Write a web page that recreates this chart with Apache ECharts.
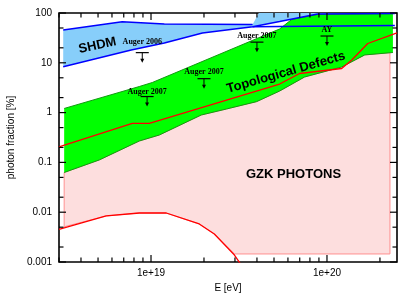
<!DOCTYPE html>
<html><head><meta charset="utf-8">
<script src="https://cdn.jsdelivr.net/npm/echarts@6/dist/echarts.min.js"></script>
<style>html,body{margin:0;padding:0;background:#fff}#c{width:415px;height:293px}</style>
</head><body><div id="c"></div>
<script>
// ---------- data (E in eV, photon fraction in %) ----------
const shdmUpE = [3.17e18, 6.86e18, 1.19e19, 3.78e19, 4.1e19, 2.43e20];
const shdmUpF = [45.6, 66.8, 60.1, 58.7, 100, 100];
const shdmLoE = [3.17e18, 7.72e18, 1.19e19, 1.96e19, 3.78e19, 5.38e19, 8.85e19, 2.43e20];
const shdmLoF = [8.35, 18.1, 25, 39.7, 53.1, 67.4, 95.5, 98];
const shdmAltE = [3.78e19, 2.43e20];
const shdmAltF = [53.1, 56];

const tdUpE = [3.21e18, 8.58e18, 1.017e19, 5.38e19, 6.30e19, 8.85e19, 2.37e20];
const tdUpF = [1.21, 3.34, 4.02, 47.7, 74, 93.3, 97.5];
const tdLoE = [3.21e18, 5.08e18, 8.58e18, 1.115e19, 1.93e19, 2.68e19, 3.98e19, 5.38e19, 7.46e19, 1.212e20, 1.64e20, 2.37e20];
const tdLoF = [0.0627, 0.112, 0.269, 0.355, 0.895, 1.18, 1.66, 2.71, 5.19, 8.24, 14.4, 16.1];

const gzkRegE = [3.21e18, 5.08e18, 8.58e18, 1.115e19, 1.93e19, 2.68e19, 3.98e19, 5.38e19, 7.46e19, 1.212e20, 1.64e20, 2.28e20, 2.28e20, 2.98e19, 2.29e19, 1.88e19, 1.22e19, 8.58e18, 5.56e18, 3.21e18];
const gzkRegF = [0.0627, 0.112, 0.269, 0.355, 0.895, 1.18, 1.66, 2.71, 5.19, 8.24, 14.4, 16.0, 0.00145, 0.00145, 0.00365, 0.0058, 0.00964, 0.00964, 0.0084, 0.0051];

const gzkLowE = [3e18, 5.56e18, 8.58e18, 1.22e19, 1.88e19, 2.29e19, 2.98e19, 3.25e19];
const gzkLowF = [0.0045, 0.0084, 0.00964, 0.00964, 0.0058, 0.00365, 0.00138, 0.00088];
const gzkHighE = [3e18, 7.83e18, 9.78e18, 5.38e19, 6.99e19, 1.212e20, 1.383e20, 1.705e20, 2.5e20];
const gzkHighF = [0.204, 0.61, 0.61, 3.75, 6.1, 7.69, 11.4, 24.4, 39.7];

const limitE = [8.92e18, 9.5e18, 2.0e19, 4.0e19, 1.0e20];
const limitF = [16, 2.1, 4.8, 26, 34.5];
const limitText = ['Auger 2006', 'Auger 2007', 'Auger 2007', 'Auger 2007', 'AY'];

const xMin = 3e18, xMax = 2.5e20, yMin = 0.001, yMax = 100;
// ---------- styles ----------
const labelDy = [11, 5, 7, 6, 6];

const pairs = (es, fs) => es.map((e, i) => [e, fs[i]]);

function polygonSeries(es, fs, fill, stroke, lw) {
  return {
    type: 'custom', coordinateSystem: 'cartesian2d', silent: true, clip: true,
    data: pairs(es, fs), encode: {x: 0, y: 1},
    renderItem: function (params, api) {
      if (params.dataIndex !== 0) return null;
      const pts = es.map((e, i) => api.coord([e, fs[i]]));
      return {type: 'polygon', shape: {points: pts},
        style: {fill: fill, stroke: stroke || null, lineWidth: lw || 0}};
    }
  };
}
function lineSeries(es, fs, color, w) {
  return {type: 'line', data: pairs(es, fs), symbol: 'none', silent: true, clip: true,
    lineStyle: {color: color, width: w}};
}

// axis ticks (decades + minor)
const xMajor = [], xMinor = [], yMajor = [], yMinor = [];
for (let p = 18; p <= 20; p++) {
  for (let k = 1; k <= 9; k++) {
    const v = k * Math.pow(10, p);
    if (v < xMin * 0.999 || v > xMax * 1.001) continue;
    (k === 1 ? xMajor : xMinor).push(v);
  }
}
for (let p = -3; p <= 2; p++) {
  const d = Math.pow(10, p);
  yMajor.push(d);
  if (p < 2) { yMinor.push(2 * d); yMinor.push(5 * d); }
}

const tickSeries = {
  type: 'custom', coordinateSystem: 'cartesian2d', silent: true, clip: false, z: 20,
  data: [[xMin, yMin]],
  renderItem: function (params, api) {
    const ch = [];
    const st = {stroke: '#000', lineWidth: 1.2};
    const add = (x1, y1, x2, y2) => ch.push({type: 'line', shape: {x1, y1, x2, y2}, style: st});
    xMajor.concat(xMinor).forEach(v => {
      const L = xMajor.includes(v) ? 7 : 4.5;
      const b = api.coord([v, yMin]), t = api.coord([v, yMax]);
      add(b[0], b[1], b[0], b[1] - L);
      add(t[0], t[1], t[0], t[1] + L);
    });
    yMajor.concat(yMinor).forEach(v => {
      const L = yMajor.includes(v) ? 7 : 4.5;
      const l = api.coord([xMin, v]), r = api.coord([xMax, v]);
      add(l[0], l[1], l[0] + L, l[1]);
      add(r[0], r[1], r[0] - L, r[1]);
    });
    return {type: 'group', children: ch};
  }
};

const limitSeries = {
  type: 'custom', coordinateSystem: 'cartesian2d', silent: true, clip: false, z: 15,
  data: pairs(limitE, limitF),
  renderItem: function (params, api) {
    const p = api.coord([api.value(0), api.value(1)]);
    const i = params.dataIndex;
    const hw = 6.5, len = 10;
    return {type: 'group', children: [
      {type: 'line', shape: {x1: p[0] - hw, y1: p[1], x2: p[0] + hw, y2: p[1]}, style: {stroke: '#000', lineWidth: 1.2}},
      {type: 'line', shape: {x1: p[0], y1: p[1], x2: p[0], y2: p[1] + len - 3}, style: {stroke: '#000', lineWidth: 1}},
      {type: 'polygon', shape: {points: [[p[0] - 2, p[1] + len - 4], [p[0] + 2, p[1] + len - 4], [p[0], p[1] + len]]}, style: {fill: '#000'}},
      {type: 'text', style: {text: limitText[i], x: p[0], y: p[1] - labelDy[i], align: 'center', verticalAlign: 'middle',
        fontFamily: 'Liberation Serif', fontWeight: 'bold', fontSize: 8, fill: '#000'}}
    ]};
  }
};

function fmtX(v) {
  const e = Math.log10(v), r = Math.round(e);
  if (Math.abs(e - r) > 1e-6) return '';
  return '1e+' + r;
}
function fmtY(v) {
  const e = Math.log10(v), r = Math.round(e);
  if (Math.abs(e - r) > 1e-6) return '';
  return r >= 0 ? String(Math.pow(10, r)) : Math.pow(10, r).toFixed(-r);
}

const chart = echarts.init(document.getElementById('c'), null, {renderer: 'canvas'});
const font = 'Liberation Sans';
chart.setOption({
  animation: false,
  backgroundColor: '#fff',
  grid: {left: 59, right: 18, top: 13, bottom: 31, show: true, borderColor: '#000', borderWidth: 1.6,
    backgroundColor: 'transparent', containLabel: false, outerBoundsMode: 'none'},
  xAxis: {type: 'log', logBase: 10, min: xMin, max: xMax,
    axisLine: {show: false}, axisTick: {show: false}, splitLine: {show: false}, minorTick: {show: false},
    axisLabel: {formatter: fmtX, fontSize: 10, color: '#000', fontFamily: font, margin: 6, showMinLabel: false, showMaxLabel: false},
    name: 'E [eV]', nameLocation: 'middle', nameGap: 19,
    nameTextStyle: {fontSize: 10, color: '#000', fontFamily: font}},
  yAxis: {type: 'log', logBase: 10, min: yMin, max: yMax,
    axisLine: {show: false}, axisTick: {show: false}, splitLine: {show: false}, minorTick: {show: false},
    axisLabel: {formatter: fmtY, fontSize: 10, color: '#000', fontFamily: font, margin: 7},
    name: 'photon fraction [%]', nameLocation: 'middle', nameGap: 42,
    nameTextStyle: {fontSize: 10, color: '#000', fontFamily: font}},
  series: [
    polygonSeries(gzkRegE, gzkRegF, '#fddede', '#ff9090', 1),
    polygonSeries(tdUpE.concat(tdLoE.slice().reverse()), tdUpF.concat(tdLoF.slice().reverse()), '#00ff00', null, 0),
    polygonSeries(shdmUpE.concat(shdmLoE.slice().reverse()), shdmUpF.concat(shdmLoF.slice().reverse()), '#87cefa', null, 0),
    lineSeries(tdUpE, tdUpF, '#119a11', 1),
    lineSeries(tdLoE, tdLoF, '#119a11', 1),
    lineSeries(shdmUpE.slice(0, 4), shdmUpF.slice(0, 4), '#0000ff', 1.5),
    lineSeries(shdmLoE, shdmLoF, '#0000ff', 1.5),
    lineSeries(shdmAltE, shdmAltF, '#0000ff', 1.5),
    lineSeries(gzkHighE, gzkHighF, '#ff0000', 1.3),
    lineSeries(gzkLowE, gzkLowF, '#ff0000', 1.3),
    limitSeries,
    tickSeries
  ],
  graphic: [
    {type: 'text', x: 97.5, y: 45.5, rotation: 12 * Math.PI / 180, z: 100,
      style: {text: 'SHDM', align: 'center', verticalAlign: 'middle', fontFamily: font, fontWeight: 'bold', fontSize: 13, fill: '#000'}},
    {type: 'text', x: 286, y: 72.5, rotation: 16 * Math.PI / 180, z: 100,
      style: {text: 'Topological Defects', align: 'center', verticalAlign: 'middle', fontFamily: font, fontWeight: 'bold', fontSize: 13, fill: '#000'}},
    {type: 'text', x: 293.5, y: 174, z: 100,
      style: {text: 'GZK PHOTONS', align: 'center', verticalAlign: 'middle', fontFamily: font, fontWeight: 'bold', fontSize: 13, fill: '#000'}}
  ]
});
</script></body></html>
